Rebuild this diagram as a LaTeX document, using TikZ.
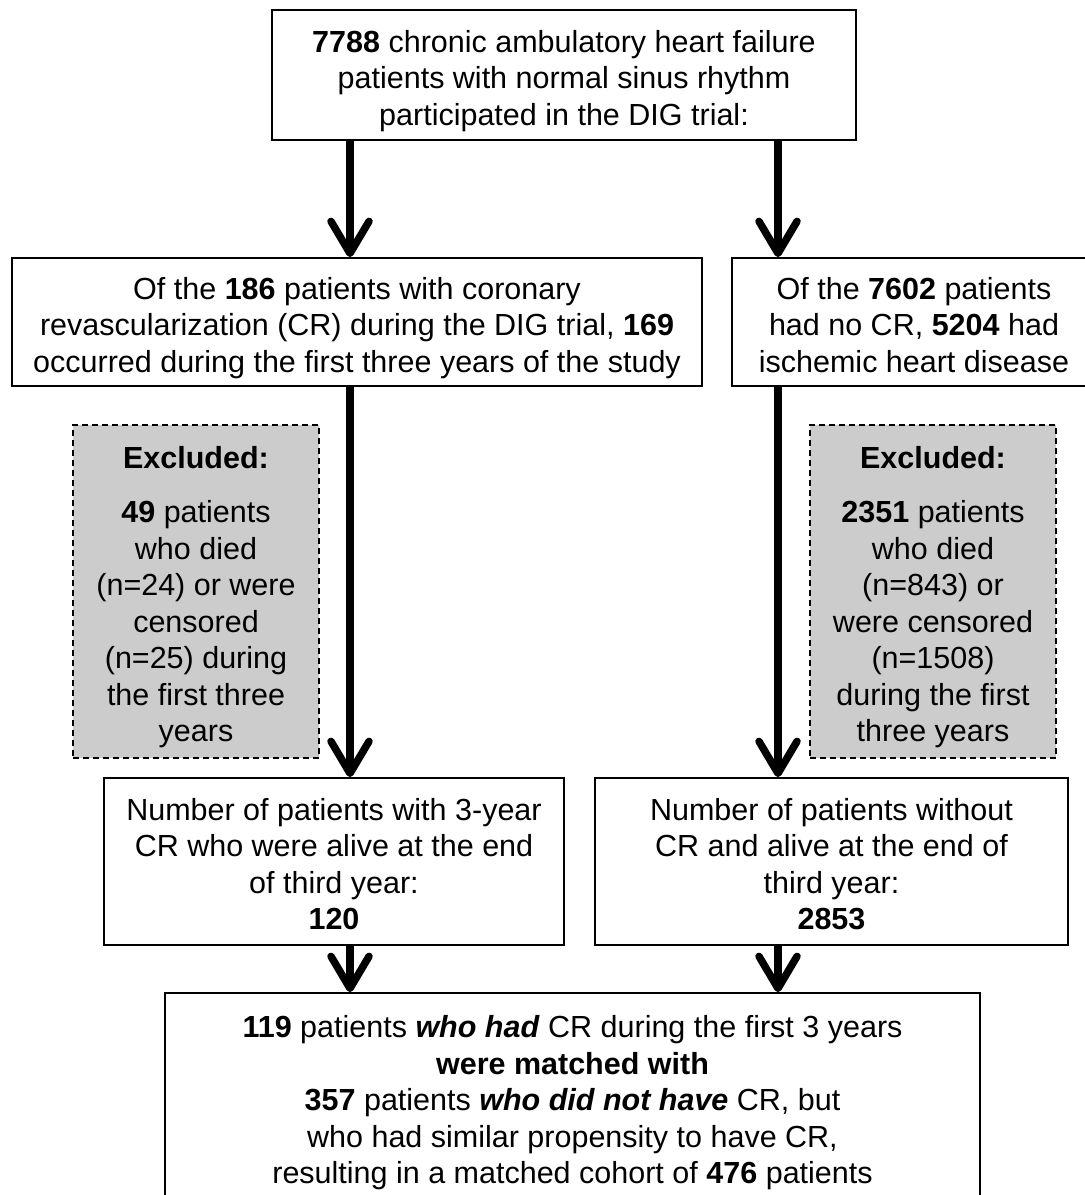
\documentclass[tikz,border=0pt]{standalone}
\usepackage{fontspec}
\setmainfont{Liberation Sans}
\usetikzlibrary{arrows.meta}
\newcommand\tp{\rule{0pt}{35pt}}
\newcommand\bt{\rule[-8pt]{0pt}{8pt}}
\begin{document}
\begin{tikzpicture}[x=1pt,y=-1pt,
  box/.style={draw, line width=1.8pt, align=center, inner sep=0pt,
    font=\fontsize{30.5}{36.5}\selectfont},
  excl/.style={box, dash pattern=on 6pt off 4pt, line width=1.4pt, fill=gray!40},
  arr/.style={line width=7.5pt, -{Straight Barb[length=32pt,width=38pt,round]}}]
\useasboundingbox (0,0) rectangle (1085,1195);
\clip (0,0) rectangle (1085,1195);
\coordinate (lx) at (350,0);
\coordinate (rx) at (778,0);
\node[box, minimum width=584pt, minimum height=130pt] (top) at (564,75)
  {\tp\textbf{7788} chronic ambulatory heart failure\\ patients with normal sinus rhythm\\ participated in the DIG trial:\bt};
\node[box, minimum width=690pt, minimum height=128pt] (crl) at (357,322)
  {\tp Of the \textbf{186} patients with coronary\\ revascularization (CR) during the DIG trial, \textbf{169}\\ occurred during the first three years of the study\bt};
\node[box, minimum width=364pt, minimum height=128pt] (ncr) at (914,322)
  {\tp Of the \textbf{7602} patients\\ had no CR, \textbf{5204} had\\ ischemic heart disease\bt};
\node[excl, minimum width=246pt, minimum height=333pt] (exl) at (196,591.5)
  {\tp\textbf{Excluded:}\\[18pt] \textbf{49} patients\\ who died\\ (n=24) or were\\ censored\\ (n=25) during\\ the first three\\ years\bt};
\node[excl, minimum width=246pt, minimum height=333pt] (exr) at (933,591.5)
  {\tp\textbf{Excluded:}\\[18pt] \textbf{2351} patients\\ who died\\ (n=843) or\\ were censored\\ (n=1508)\\ during the first\\ three years\bt};
\node[box, minimum width=460pt, minimum height=167pt] (alvl) at (334,861.5)
  {\tp Number of patients with 3-year\\ CR who were alive at the end\\ of third year:\\ \textbf{120}\bt};
\node[box, minimum width=473pt, minimum height=167pt] (alvr) at (831.5,861.5)
  {\tp Number of patients without\\ CR and alive at the end of\\ third year:\\ \textbf{2853}\bt};
\node[box, minimum width=815pt, minimum height=208pt] (match) at (572.5,1097)
  {\tp\textbf{119} patients \textbf{\textit{who had}} CR during the first 3 years\\ \textbf{were matched with}\\ \textbf{357} patients \textbf{\textit{who did not have}} CR, but\\ who had similar propensity to have CR,\\ resulting in a matched cohort of \textbf{476} patients\bt};
\draw[arr] (top.south -| lx) -- (crl.north -| lx);
\draw[arr] (top.south -| rx) -- (ncr.north -| rx);
\draw[arr] (crl.south -| lx) -- (alvl.north -| lx);
\draw[arr] (ncr.south -| rx) -- (alvr.north -| rx);
\draw[arr] (alvl.south -| lx) -- (match.north -| lx);
\draw[arr] (alvr.south -| rx) -- (match.north -| rx);
\end{tikzpicture}
\end{document}
